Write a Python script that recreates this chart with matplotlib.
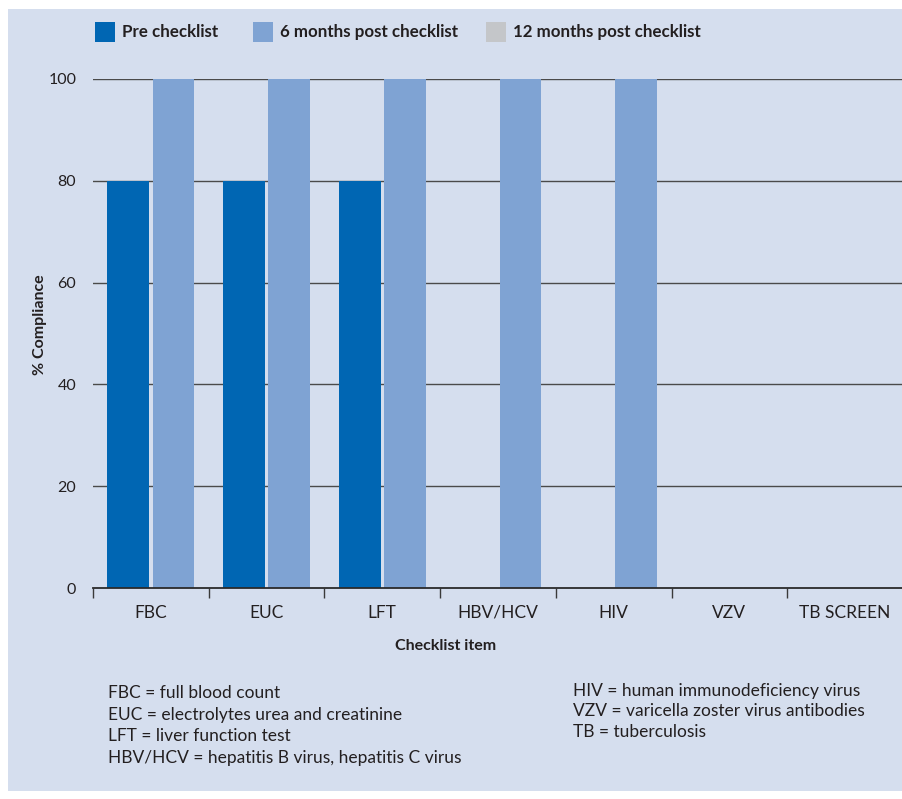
import matplotlib.pyplot as plt
from matplotlib.patches import Rectangle
import numpy as np

plt.rcParams['font.family'] = ['Lato', 'DejaVu Sans']

categories = ["FBC", "EUC", "LFT", "HBV/HCV", "HIV", "VZV", "TB SCREEN"]
pre = [80, 80, 80, 0, 0, 0, 0]
post_6 = [100, 100, 100, 100, 100, 0, 0]
post_12 = [0, 0, 0, 0, 0, 0, 0]
series_names = ["Pre checklist", "6 months post checklist", "12 months post checklist"]

bg = "#d5deee"
txt = "#231f20"
colors = ["#0066b3", "#7fa3d3", "#c4c6c9"]

fig = plt.figure(figsize=(9.03, 7.99), dpi=100)
fig.patch.set_facecolor("white")
# panel background with thin white margin at top/left
fig.add_artist(Rectangle((8 / 903, 1 - 791 / 799), 1, (791 - 9) / 799,
                         transform=fig.transFigure, facecolor=bg,
                         edgecolor="none", zorder=-10))

ax = fig.add_axes([93 / 903, 1 - 588 / 799, 810 / 903, (588 - 79) / 799])
ax.set_facecolor("none")

x = np.arange(len(categories)) + 0.5
w = 0.36
ax.bar(x - 0.195, pre, w, color=colors[0], zorder=3)
ax.bar(x + 0.195, post_6, w, color=colors[1], zorder=3)
ax.bar(x, post_12, w, color=colors[2], zorder=3)

ax.set_xlim(0, len(categories))
ax.set_ylim(0, 100)
ax.set_yticks([0, 20, 40, 60, 80, 100])
ax.tick_params(axis="y", length=0, pad=12, labelsize=11.5, labelcolor=txt)
for v in [20, 40, 60, 80, 100]:
    ax.axhline(v, color="#4a4a4a", lw=1.0, zorder=2)

ax.set_xticks(np.arange(len(categories) + 1))
ax.set_xticklabels([])
ax.set_xticks(x, minor=True)
ax.set_xticklabels(categories, minor=True)
ax.tick_params(axis="x", which="major", direction="out", length=7.5,
               width=1.0, color="#3a3a3a")
ax.tick_params(axis="x", which="minor", length=0, pad=12, labelsize=12.5,
               labelcolor=txt)

for s in ["top", "right", "left"]:
    ax.spines[s].set_visible(False)
ax.spines["bottom"].set_color("#2a2a2a")
ax.spines["bottom"].set_linewidth(1.3)
ax.spines["bottom"].set_zorder(4)

fig.text(40 / 903, 1 - 325 / 799, "% Compliance", rotation=90, ha="center",
         va="center", fontsize=11.5, fontweight="bold", color=txt)
fig.text(446 / 903, 1 - 646 / 799, "Checklist item", ha="center",
         va="center", fontsize=11.5, fontweight="bold", color=txt)

# legend row across the top
leg_x = [95, 253, 486]
for lx, name, c in zip(leg_x, series_names, colors):
    fig.add_artist(Rectangle((lx / 903, 1 - 42 / 799), 20 / 903, 20 / 799,
                             transform=fig.transFigure, facecolor=c,
                             edgecolor="none"))
    fig.text((lx + 27) / 903, 1 - 32 / 799, name, ha="left", va="center",
             fontsize=12.2, fontweight="bold", color=txt)

left_notes = ["FBC = full blood count",
              "EUC = electrolytes urea and creatinine",
              "LFT = liver function test",
              "HBV/HCV = hepatitis B virus, hepatitis C virus"]
right_notes = ["HIV = human immunodeficiency virus",
               "VZV = varicella zoster virus antibodies",
               "TB = tuberculosis"]
for i, t in enumerate(left_notes):
    fig.text(108 / 903, 1 - (693 + i * 21.7) / 799, t, ha="left",
             va="center", fontsize=12.5, color=txt)
for i, t in enumerate(right_notes):
    fig.text(573 / 903, 1 - (691 + i * 20.5) / 799, t, ha="left",
             va="center", fontsize=12.5, color=txt)

fig.savefig("out.png", dpi=100, facecolor=fig.get_facecolor())
